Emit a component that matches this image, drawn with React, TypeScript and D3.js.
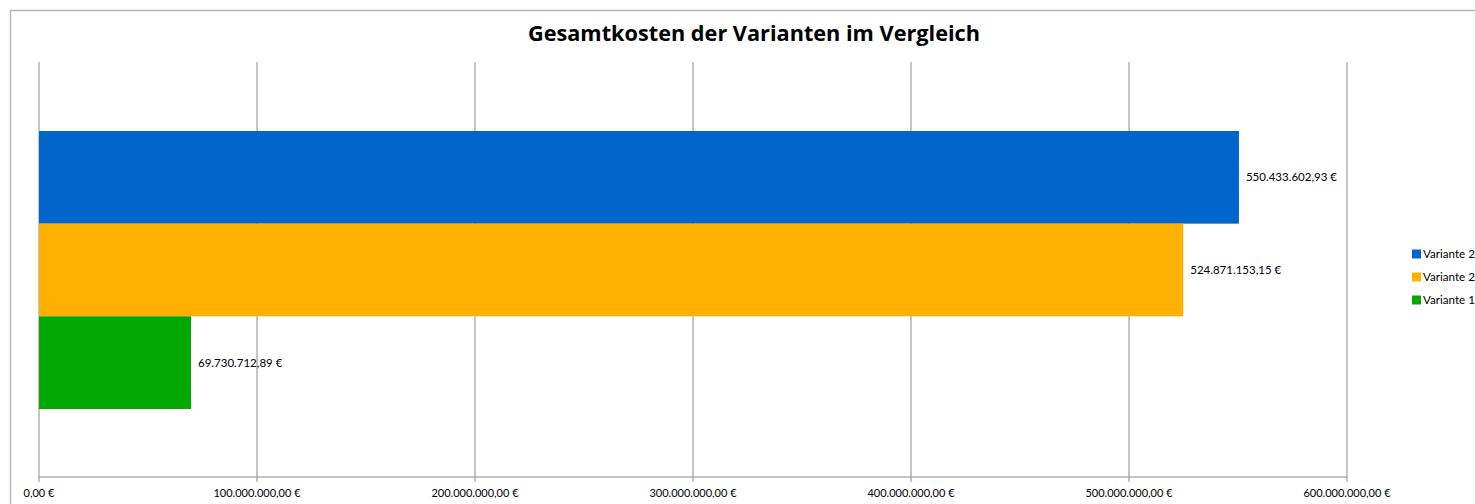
import React from "react";
import * as d3 from "d3";

const title = "Gesamtkosten der Varianten im Vergleich";
const seriesNames = ["Variante 2", "Variante 2", "Variante 1"];
const seriesValues = [550433602.93, 524871153.15, 69730712.89];
const seriesColors = ["#0066cc", "#ffb000", "#00a800"];
const tickValues = [0, 100000000, 200000000, 300000000, 400000000, 500000000, 600000000];

const W = 1475;
const H = 504;
const plot = { left: 39, right: 1347, top: 62, bottom: 477 };
const font = "Lato, 'Open Sans', sans-serif";

const fmt = (v: number) => {
  const [int, dec] = v.toFixed(2).split(".");
  return int.replace(/\B(?=(\d{3})+(?!\d))/g, ".") + "," + dec + " €";
};

export default function App() {
  const x = d3.scaleLinear().domain([0, 600000000]).range([plot.left, plot.right]);
  const y = d3
    .scaleBand()
    .domain(seriesNames.map((_, i) => String(i)))
    .range([131, 409])
    .paddingInner(0);
  const legendY = d3.scalePoint().domain(seriesNames.map((_, i) => String(i))).range([254, 300]);

  return (
    <svg
      width={W}
      height={H}
      style={{ position: "absolute", left: 0, top: 0, background: "#fff" }}
      fontFamily={font}
    >
      <rect x={10.5} y={10.5} width={1600} height={700} fill="#fff" stroke="#b8b8b8" strokeWidth={1.5} />
      <text
        x={754}
        y={41}
        textAnchor="middle"
        fontSize={21.7}
        fontWeight="bold"
        fontFamily="'Open Sans', sans-serif"
        fill="#000"
      >
        {title}
      </text>
      {tickValues.map((t) => (
        <g key={t}>
          <line x1={x(t)} x2={x(t)} y1={plot.top} y2={plot.bottom + 5} stroke="#8c8c8c" strokeWidth={1} />
          <text x={x(t)} y={497} textAnchor="middle" fontSize={11} fill="#000">
            {fmt(t)}
          </text>
        </g>
      ))}
      <line x1={plot.left} x2={plot.right} y1={plot.bottom} y2={plot.bottom} stroke="#8c8c8c" />
      {seriesValues.map((v, i) => (
        <g key={i}>
          <rect
            x={x(0)}
            y={y(String(i))!}
            width={x(v) - x(0)}
            height={y.bandwidth()}
            fill={seriesColors[i]}
          />
          <text
            x={x(v) + 7}
            y={y(String(i))! + y.bandwidth() / 2}
            dy="0.35em"
            fontSize={11.5}
            fill="#000"
          >
            {fmt(v)}
          </text>
        </g>
      ))}
      {seriesNames.map((n, i) => (
        <g key={i} transform={`translate(1412,${legendY(String(i))})`}>
          <rect x={0} y={-4.5} width={9} height={9} fill={seriesColors[i]} />
          <text x={11} y={0} dy="0.35em" fontSize={11.6} fill="#000">
            {n}
          </text>
        </g>
      ))}
    </svg>
  );
}
